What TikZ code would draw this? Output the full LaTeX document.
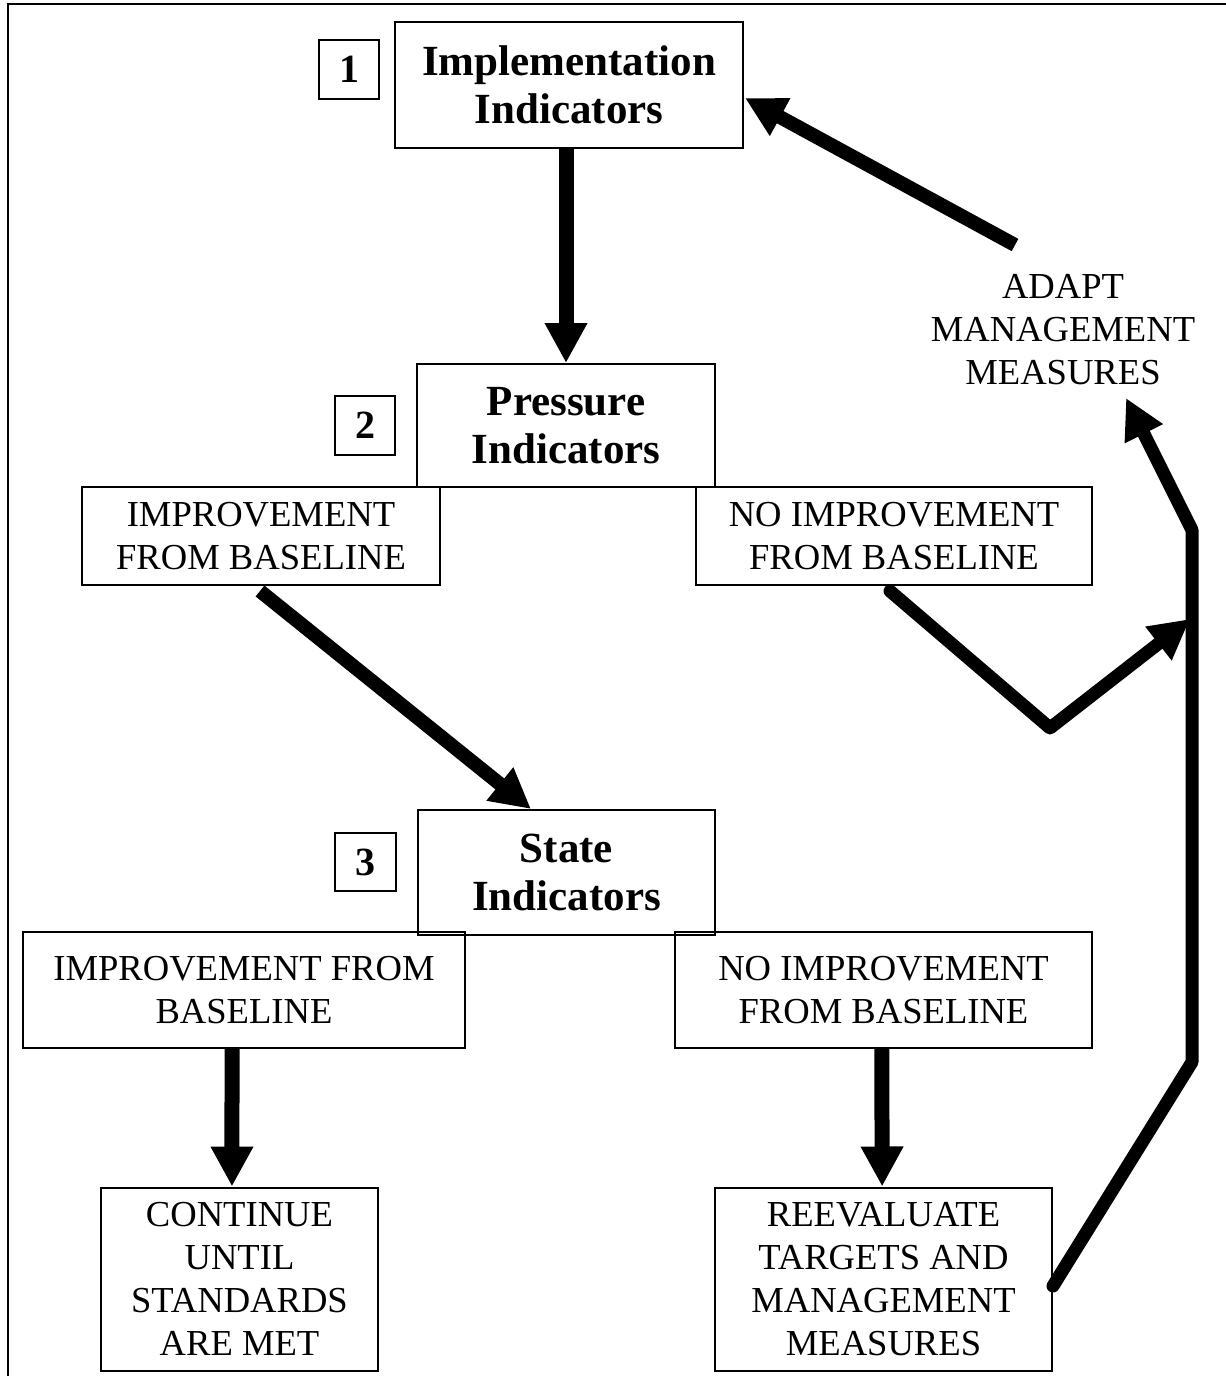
\documentclass[tikz,border=0pt]{standalone}
\usepackage{fontspec}
\setmainfont{Liberation Serif}
\usetikzlibrary{arrows.meta,calc}
\begin{document}
\begin{tikzpicture}[x=1pt,y=-1pt,
  box/.style={draw, line width=2pt, inner sep=0pt, align=center},
  title/.style={box, font=\fontsize{43}{48}\selectfont\bfseries},
  body/.style={box, font=\fontsize{36.6}{43}\selectfont},
  num/.style={box, font=\fontsize{40}{40}\selectfont\bfseries},
  tip/.style={-{Triangle[width=40pt,length=40pt]}},
  arr/.style={line width=15pt, tip},
  feed/.style={line width=13pt, line cap=round, line join=round}]
\useasboundingbox (0,0) rectangle (1226,1376);
\draw[line width=2pt] (8,1376) -- (8,4) -- (1226,4);
% boxes
\node[num, minimum width=60pt, minimum height=59pt] (n1) at (349,69.5) {1};
\node[title, minimum width=348pt, minimum height=126pt] (impl) at (569,85) {Implementation\\Indicators};
\node[num, minimum width=60pt, minimum height=59pt] (n2) at (365,425.5) {2};
\node[title, minimum width=298pt, minimum height=123pt] (press) at (566,425.5) {Pressure\\Indicators};
\node[body, minimum width=358pt, minimum height=98pt] (pimp) at (261,536) {IMPROVEMENT\\FROM BASELINE};
\node[body, minimum width=396pt, minimum height=98pt] (pnoimp) at (894,536) {NO IMPROVEMENT\\FROM BASELINE};
\node[num, minimum width=61pt, minimum height=58pt] (n3) at (365.5,862) {3};
\node[title, minimum width=297pt, minimum height=125pt] (state) at (566.5,872.5) {State\\Indicators};
\node[body, minimum width=442pt, minimum height=116pt] (simp) at (244,990) {IMPROVEMENT FROM\\BASELINE};
\node[body, minimum width=417pt, minimum height=116pt] (snoimp) at (883.5,990) {NO IMPROVEMENT\\FROM BASELINE};
\node[body, minimum width=277pt, minimum height=183pt] (cont) at (239.5,1279) {CONTINUE\\UNTIL\\STANDARDS\\ARE MET};
\node[body, minimum width=337pt, minimum height=183pt] (reeval) at (883.5,1279) {REEVALUATE\\TARGETS AND\\MANAGEMENT\\MEASURES};
\node[font=\fontsize{36.6}{43}\selectfont, align=center, inner sep=0pt] (adapt) at (1063,330) {ADAPT\\MANAGEMENT\\MEASURES};
% coordinates
\coordinate (j1) at (1192,1062);
\coordinate (j2) at (1192,530);
\coordinate (tipA) at (1126,398);
\coordinate (v) at (1050,728);
\coordinate (tipJ) at (1190,619);
\coordinate (startA) at (1015,245);
\coordinate (tipI) at (745,98);
% connectors
\draw[arr] (press.north |- impl.south) -- (press.north);
\draw[arr, line width=14pt] ($(pimp.south)+(-1,5)$) -- ($(state.north west)+(114,0)$);
\draw[arr] ($(simp.south west)!0.473!(simp.south east)$) -- ($(cont.north west)!0.473!(cont.north east)$);
\draw[arr] ($(snoimp.south west)!0.496!(snoimp.south east)$) -- ($(reeval.north west)!0.496!(reeval.north east)$);
\draw[feed, tip] ($(reeval.east)+(0,7)$) -- (j1) -- (j2) -- (tipA);
\draw[feed, tip] ($(pnoimp.south)+(-4,5)$) -- (v) -- (tipJ);
\draw[arr, line width=14pt] (startA) -- (tipI);
\end{tikzpicture}
\end{document}
